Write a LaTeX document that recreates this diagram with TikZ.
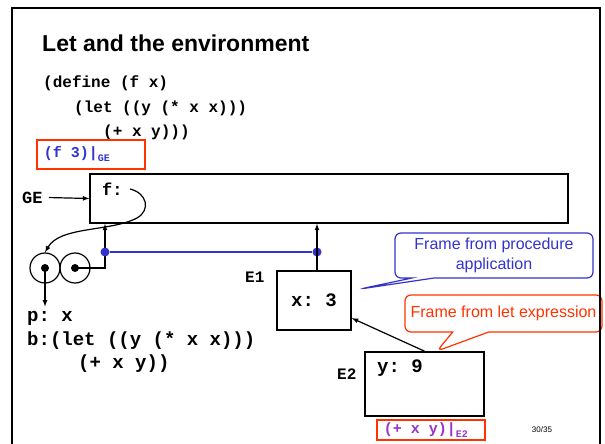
\documentclass[tikz,border=0pt]{standalone}
\usepackage{fontspec}
\setmainfont{Liberation Sans}
\setmonofont{Liberation Mono}
\usetikzlibrary{arrows,shapes.callouts}
\definecolor{envblue}{RGB}{51,51,204}
\definecolor{notered}{RGB}{255,51,0}
\definecolor{evalpurple}{RGB}{153,51,204}

\begin{document}
\begin{tikzpicture}[x=1pt, y=-1pt, >=latex,
		code/.style={font=\fontsize{16}{20}\selectfont\ttfamily\bfseries, anchor=base west, inner sep=0pt},
		bigcode/.style={code, font=\fontsize{19}{23}\selectfont\ttfamily\bfseries},
		frame/.style={draw, line width=1.6pt, inner sep=0pt},
		link/.style={->, line width=1.2pt},
		evalbox/.style={draw=notered, line width=1.6pt, inner xsep=7pt, inner ysep=0pt, anchor=west, font=\fontsize{15}{18}\selectfont\ttfamily\bfseries},
		envdot/.style={circle, fill=envblue, inner sep=0pt, minimum size=9pt},
		ptrdot/.style={circle, fill, inner sep=0pt, minimum size=8pt},
		cell/.style={circle, draw, line width=1.2pt, minimum size=30pt, inner sep=0pt},
		note/.style={rectangle callout, draw=#1, text=#1, fill=white, line width=1.2pt, rounded corners=6pt, font=\fontsize{16}{20}\selectfont, align=center, inner sep=0pt}]
			\useasboundingbox (0,0) rectangle (605,444);

			\node[anchor=base west, inner sep=0pt, font=\fontsize{23}{28}\selectfont\bfseries] (title) at (42,52) {Let and the environment};

			\node[code] (def1) at (43,88) {(define (f x)};
			\node[code] (def2) at (74,112) {(let ((y (* x x)))};
			\node[code] (def3) at (103,136) {(+ x y)))};

			\node[evalbox, text=envblue, minimum height=29pt] (call) at (36,154.5) {\makebox[94pt][l]{(f 3)|\raisebox{-4pt}{\fontsize{10}{10}\selectfont GE}}};

			% global frame
			\node[frame, minimum width=478pt, minimum height=49pt] (GE) at (329,198.5) {};
			\node[code, font=\fontsize{17}{20}\selectfont\ttfamily\bfseries] (fvar) at (102,195) {f:};
			\node[code, font=\fontsize{17}{20}\selectfont\ttfamily\bfseries] (GElabel) at (22,203) {GE};
			\coordinate (fptr) at (130,189);

			% procedure object
			\node[cell] (lcell) at (45,268) {};
			\node[cell] (rcell) at (75,268) {};
			\node[ptrdot] (ldot) at (lcell.center) {};
			\node[ptrdot] (rdot) at (rcell.center) {};

			\node[bigcode] (pnode) at (27,321) {p: x};
			\node[bigcode] (bnode) at (27,345) {b:(let ((y (* x x)))};
			\node[bigcode] (bbody) at (78,368) {(+ x y))};

			% frames E1, E2
			\node[frame, minimum width=74pt, minimum height=59pt, font=\fontsize{19}{23}\selectfont\ttfamily\bfseries] (E1) at (314,300.5) {x: 3};
			\node[code] (E1label) at (245,282) {E1};
			\node[frame, minimum width=119pt, minimum height=64pt] (E2) at (424.5,384) {};
			\node[bigcode] (yvar) at (377,372) {y: 9};
			\node[code] (E2label) at (337,379) {E2};

			\node[evalbox, text=evalpurple, minimum height=20pt] (body) at (376,430) {\makebox[94pt][l]{(+ x y)|\raisebox{-4pt}{\fontsize{10}{10}\selectfont E2}}};
			\node[inner sep=0pt, font=\fontsize{8}{9}\selectfont] (pageno) at (542,430) {30/35};

			\draw[link, shorten <=6pt] (GElabel.east) -- (GE.west);
			\draw[link] (fptr) .. controls (147,193) and (151,210) .. (137,218) .. controls (110,232) and (60,226) .. (lcell.north);
			\draw[link] (rdot.center) -| (105,252) -- (105,252 |- GE.south);
			\draw[link, shorten >=4pt] (ldot.center) -- (ldot |- pnode.north);
			\node[envdot] (genv) at (105,252) {};
			\node[envdot] (e1env) at (317,252) {};
			\draw[link] (e1env |- E1.north) -- (e1env |- GE.south);
			\draw[envblue, line width=1.6pt] (genv) -- (e1env);
			\draw[link] (E2.north) -- (E1.-25);

			\node[note=envblue, minimum width=198pt, minimum height=45pt, callout pointer width=22pt, callout absolute pointer={(360,289)}] (procnote) at (494,255.5) {Frame from procedure\\application};
			\node[note=notered, minimum width=197pt, minimum height=37pt, callout pointer width=36pt, callout absolute pointer={(437,351)}] (letnote) at (503.5,313.5) {Frame from let expression};

			\draw[line width=2.5pt] (12,444) -- (12,8) -- (600,8) -- (600,444);
		\end{tikzpicture}
\end{document}
